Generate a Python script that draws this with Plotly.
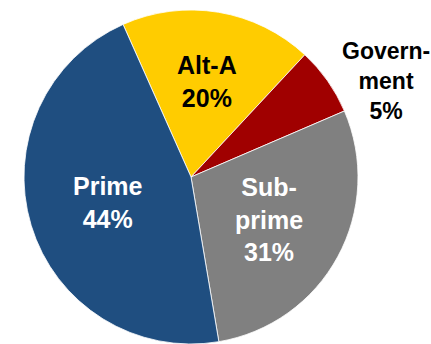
import math
import plotly.graph_objects as go

categories = ["Alt-A", "Government", "Sub-prime", "Prime"]
# slice sizes as drawn in the picture (degrees of arc converted to shares)
values = [18.6, 6.6, 28.8, 46.0]
slice_labels = ["Alt-A<br>20%", "Govern-<br>ment<br>5%", "Sub-<br>prime<br>31%", "Prime<br>44%"]
colors = ["#FFCC00", "#A00000", "#808080", "#1F4E80"]
text_colors = ["#000000", "#000000", "#FFFFFF", "#FFFFFF"]
label_outside = [False, True, False, False]
label_radius = [0.58, 1.0, 0.53, 0.52]

W, H = 431, 344
ROTATION = -24
FONT = "Liberation Sans, Arial, sans-serif"

# pie domain in pixels
top_px = 10
dom_h = H - top_px
cx_px = 191
dom_x0 = cx_px - dom_h / 2
dom_x1 = cx_px + dom_h / 2
R = dom_h / 2
cy_px = top_px + R

fig = go.Figure(go.Pie(
    labels=categories,
    values=values,
    textinfo="none",
    marker=dict(colors=colors, line=dict(color="#FFFFFF", width=0.8)),
    sort=False,
    direction="clockwise",
    rotation=ROTATION,
    domain=dict(x=[dom_x0 / W, dom_x1 / W], y=[0, 1 - top_px / H]),
    showlegend=False,
    hoverinfo="skip",
))

total = sum(values)
cum = 0
annotations = []
for lab, v, col, outside, f in zip(slice_labels, values, text_colors, label_outside, label_radius):
    mid = ROTATION + 360 * (cum + v / 2) / total
    cum += v
    a = math.radians(mid)
    px = cx_px + f * R * math.sin(a)
    py = cy_px - f * R * math.cos(a)
    annotations.append(dict(
        x=px / W, y=1 - py / H, xref="paper", yref="paper",
        text=lab, showarrow=False, align="center",
        xanchor="left" if outside else "center", yanchor="middle",
        xshift=12 if outside else 0,
        font=dict(family=FONT, size=23 if outside else 25, color=col, weight="bold"),
    ))

fig.update_layout(
    width=W, height=H,
    margin=dict(l=0, r=0, t=0, b=0),
    paper_bgcolor="white",
    plot_bgcolor="white",
    annotations=annotations,
)

fig.write_html("out.html")
